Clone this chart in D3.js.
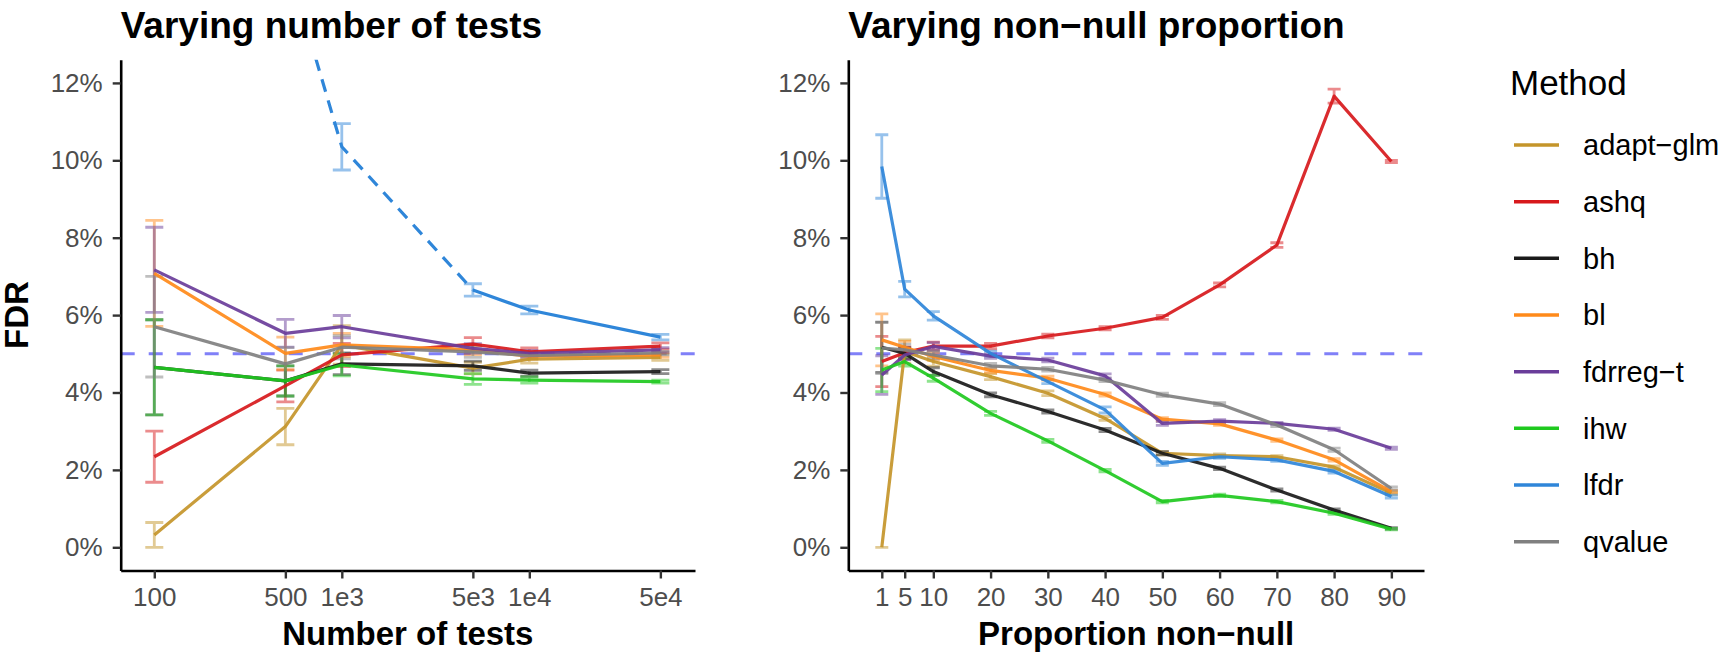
<!DOCTYPE html>
<html>
<head>
<meta charset="utf-8">
<script src="https://cdn.jsdelivr.net/npm/d3@7"></script>
<style>
  body { margin: 0; background: #fff; }
  svg { display: block; font-family: "Liberation Sans", Arial, Helvetica, sans-serif; }
</style>
</head>
<body>
<div id="chart"></div>
<script>
// ---- data (FDR in %) ----
var methods = ["adapt-glm", "ashq", "bh", "bl", "fdrreg-t", "ihw", "lfdr", "qvalue"];
var methodLabels = ["adapt\u2212glm", "ashq", "bh", "bl", "fdrreg\u2212t", "ihw", "lfdr", "qvalue"];
var methodColors = ["#c4952a", "#d7191c", "#1a1a1a", "#ff8a1a", "#6a3d9a", "#1fc91f", "#2f86d9", "#808080"];

// left panel: number of tests
var nTests = [100, 500, 1000, 5000, 10000, 50000];
var nTestsLabels = ["100", "500", "1e3", "5e3", "1e4", "5e4"];
var fdrTests = {
  "adapt-glm": [0.32, 3.12, 5.23, 4.63, 4.86, 4.91],
  "ashq":      [2.34, 4.17, 4.97, 5.25, 5.05, 5.20],
  "bh":        [4.65, 4.30, 4.74, 4.69, 4.50, 4.54],
  "bl":        [7.08, 5.01, 5.23, 5.10, 4.94, 4.97],
  "fdrreg-t":  [7.17, 5.53, 5.70, 5.14, 5.01, 5.10],
  "ihw":       [4.65, 4.30, 4.71, 4.35, 4.32, 4.28],
  "lfdr":      [28.0, 15.3, 10.35, 6.65, 6.13, 5.43],
  "qvalue":    [5.70, 4.74, 5.17, 5.05, 4.95, 5.02]
};
var seTests = {
  "adapt-glm": [0.32, 0.47, 0.50, 0.15, 0.10, 0.08],
  "ashq":      [0.66, 0.41, 0.30, 0.17, 0.10, 0.08],
  "bh":        [1.23, 0.39, 0.28, 0.12, 0.08, 0.05],
  "bl":        [1.37, 0.42, 0.30, 0.12, 0.08, 0.06],
  "fdrreg-t":  [1.10, 0.36, 0.29, 0.12, 0.08, 0.06],
  "ihw":       [1.23, 0.39, 0.28, 0.14, 0.08, 0.04],
  "lfdr":      [2.00, 1.00, 0.60, 0.16, 0.10, 0.07],
  "qvalue":    [1.30, 0.42, 0.30, 0.14, 0.08, 0.05]
};
var lfdrDashedUntil = 5000; // lfdr drawn dashed up to this many tests

// right panel: proportion non-null
var pNonNull = [1, 5, 10, 20, 30, 40, 50, 60, 70, 80, 90];
var fdrProp = {
  "adapt-glm": [0.00, 5.06, 4.80, 4.41, 3.98, 3.33, 2.43, 2.37, 2.34, 2.07, 1.40],
  "ashq":      [4.80, 5.03, 5.20, 5.20, 5.46, 5.66, 5.94, 6.78, 7.81, 11.66, 9.97],
  "bh":        [5.17, 5.01, 4.54, 3.94, 3.51, 3.03, 2.43, 2.04, 1.48, 0.96, 0.49],
  "bl":        [5.36, 5.17, 4.93, 4.57, 4.37, 3.95, 3.31, 3.19, 2.77, 2.26, 1.44],
  "fdrreg-t":  [4.45, 4.97, 5.19, 4.94, 4.84, 4.43, 3.20, 3.26, 3.20, 3.05, 2.56],
  "ihw":       [4.58, 4.80, 4.37, 3.46, 2.75, 1.98, 1.18, 1.34, 1.18, 0.88, 0.47],
  "lfdr":      [9.84, 6.67, 5.98, 5.01, 4.28, 3.55, 2.17, 2.34, 2.26, 1.96, 1.31],
  "qvalue":    [5.15, 5.10, 4.97, 4.69, 4.60, 4.32, 3.94, 3.70, 3.16, 2.52, 1.52]
};
var seProp = {
  "adapt-glm": [0.00, 0.30, 0.12, 0.08, 0.06, 0.05, 0.04, 0.04, 0.03, 0.03, 0.03],
  "ashq":      [0.65, 0.15, 0.10, 0.07, 0.05, 0.04, 0.05, 0.05, 0.06, 0.18, 0.03],
  "bh":        [0.65, 0.15, 0.10, 0.05, 0.04, 0.04, 0.04, 0.03, 0.03, 0.03, 0.02],
  "bl":        [0.67, 0.15, 0.10, 0.06, 0.05, 0.04, 0.04, 0.04, 0.03, 0.03, 0.03],
  "fdrreg-t":  [0.50, 0.12, 0.10, 0.06, 0.05, 0.05, 0.05, 0.04, 0.03, 0.03, 0.03],
  "ihw":       [0.56, 0.12, 0.08, 0.05, 0.04, 0.03, 0.03, 0.03, 0.03, 0.03, 0.02],
  "lfdr":      [0.82, 0.20, 0.11, 0.06, 0.05, 0.08, 0.05, 0.04, 0.04, 0.04, 0.04],
  "qvalue":    [0.66, 0.15, 0.10, 0.06, 0.05, 0.04, 0.04, 0.04, 0.04, 0.04, 0.04]
};

var yTicks = [0, 2, 4, 6, 8, 10, 12];
var targetFdr = 5;

// ---- layout ----
var W = 1723, H = 661;
var plotTop = 59.7, plotBottom = 570.5;
var color = d3.scaleOrdinal(methods, methodColors);

var svg = d3.select("#chart").append("svg")
  .attr("width", W).attr("height", H);

var y = d3.scaleLinear().domain([-0.6, 12.6]).range([plotBottom, plotTop]);

function drawPanel(opts) {
  var x = opts.x;
  var g = svg.append("g");
  var x0 = x.range()[0], x1 = x.range()[1];

  g.append("clipPath").attr("id", opts.id)
    .append("rect").attr("x", x0).attr("y", plotTop)
    .attr("width", x1 - x0).attr("height", plotBottom - plotTop);

  var plot = g.append("g").attr("clip-path", "url(#" + opts.id + ")");

  // target line
  plot.append("line")
    .attr("x1", x0).attr("x2", x1)
    .attr("y1", y(targetFdr)).attr("y2", y(targetFdr))
    .attr("stroke", "#8080f8").attr("stroke-width", 3)
    .attr("stroke-dasharray", "14,14");

  // error bars
  methods.forEach(function (m) {
    var vals = opts.values[m], se = opts.se[m];
    var eb = plot.append("g")
      .attr("stroke", color(m)).attr("stroke-width", 2.8)
      .attr("opacity", 0.5).attr("fill", "none");
    opts.xs.forEach(function (xv, i) {
      var cx = x(xv), lo = y(vals[i] - se[i]), hi = y(vals[i] + se[i]);
      var hw = opts.cap / 2;
      eb.append("path")
        .attr("d", "M" + (cx - hw) + "," + hi + "H" + (cx + hw) +
                   "M" + cx + "," + hi + "V" + lo +
                   "M" + (cx - hw) + "," + lo + "H" + (cx + hw));
    });
  });

  // lines
  methods.forEach(function (m) {
    var pts = opts.xs.map(function (xv, i) { return [xv, opts.values[m][i]]; });
    var line = d3.line().x(function (d) { return x(d[0]); }).y(function (d) { return y(d[1]); });
    if (opts.dashed && opts.dashed[m]) {
      var cut = opts.dashed[m];
      var dashPts = pts.filter(function (d) { return d[0] <= cut; });
      var solidPts = pts.filter(function (d) { return d[0] >= cut; });
      plot.append("path").attr("d", line(dashPts))
        .attr("fill", "none").attr("stroke", color(m)).attr("stroke-width", 3.2)
        .attr("stroke-dasharray", "13,9");
      plot.append("path").attr("d", line(solidPts))
        .attr("fill", "none").attr("stroke", color(m)).attr("stroke-width", 3.2);
    } else {
      plot.append("path").attr("d", line(pts))
        .attr("fill", "none").attr("stroke", color(m)).attr("stroke-width", 3.2)
        .attr("stroke-linejoin", "round").attr("opacity", 0.92);
    }
  });

  // axes
  var ya = g.append("g").attr("transform", "translate(" + x0 + ",0)")
    .call(d3.axisLeft(y).tickValues(yTicks).tickSize(8).tickSizeOuter(0).tickPadding(10)
      .tickFormat(function (d) { return d + "%"; }));
  var xa = g.append("g").attr("transform", "translate(0," + plotBottom + ")")
    .call(d3.axisBottom(x).tickValues(opts.xs).tickSize(8).tickSizeOuter(0).tickPadding(8)
      .tickFormat(function (d, i) { return opts.tickLabels[i]; }));
  [ya, xa].forEach(function (a) {
    a.select(".domain").attr("stroke", "#000").attr("stroke-width", 2.6);
    a.selectAll(".tick line").attr("stroke", "#333").attr("stroke-width", 2.4);
    a.selectAll(".tick text").attr("fill", "#4d4d4d").style("font-size", "26px");
  });
  xa.selectAll(".tick text").attr("dy", "0.75em");

  // titles
  g.append("text").attr("x", x0).attr("y", 38)
    .style("font-size", "37px").style("font-weight", "bold")
    .text(opts.title);
  g.append("text").attr("x", (x0 + x1) / 2).attr("y", 645)
    .attr("text-anchor", "middle")
    .style("font-size", "33px").style("font-weight", "bold")
    .text(opts.xTitle);
}

drawPanel({
  id: "clipL",
  x: d3.scaleLog().domain([66.2, 76500]).range([120.7, 695]),
  xs: nTests, tickLabels: nTestsLabels,
  values: fdrTests, se: seTests, cap: 18,
  dashed: { "lfdr": lfdrDashedUntil },
  title: "Varying number of tests",
  xTitle: "Number of tests"
});

drawPanel({
  id: "clipR",
  x: d3.scaleLinear().domain([-4.85, 95.7]).range([848.3, 1424]),
  xs: pNonNull, tickLabels: pNonNull.map(String),
  values: fdrProp, se: seProp, cap: 13,
  title: "Varying non\u2212null proportion",
  xTitle: "Proportion non\u2212null"
});

// y axis title
svg.append("text")
  .attr("transform", "translate(28," + (plotTop + plotBottom) / 2 + ") rotate(-90)")
  .attr("text-anchor", "middle")
  .style("font-size", "33px").style("font-weight", "bold")
  .text("FDR");

// legend
var legend = svg.append("g").attr("transform", "translate(1510,0)");
legend.append("text").attr("x", 0).attr("y", 95)
  .style("font-size", "35px").text("Method");
var rowY = d3.scalePoint().domain(methods).range([145, 541.7]);
methods.forEach(function (m, i) {
  legend.append("line")
    .attr("x1", 4).attr("x2", 49)
    .attr("y1", rowY(m)).attr("y2", rowY(m))
    .attr("stroke", color(m)).attr("stroke-width", 3.5);
  legend.append("text")
    .attr("x", 73).attr("y", rowY(m)).attr("dy", "0.36em")
    .style("font-size", "29px").attr("fill", "#000")
    .text(methodLabels[i]);
});
</script>
</body>
</html>
